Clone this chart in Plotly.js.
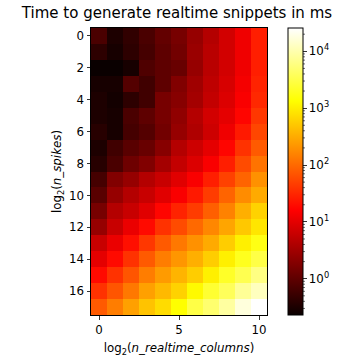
<!DOCTYPE html>
<html>
<head>
<meta charset="utf-8">
<script src="https://cdn.plot.ly/plotly-3.0.1.min.js"></script>
<style>html,body{margin:0;padding:0;background:#fff;}#chart{width:347px;height:361px;}</style>
</head>
<body>
<div id="chart"></div>
<script>
// log2(n_realtime_columns) categories (x) and log2(n_spikes) categories (y)
const logColumns = [0,1,2,3,4,5,6,7,8,9,10];
const logSpikes = [0,1,2,3,4,5,6,7,8,9,10,11,12,13,14,15,16,17];

// Time to generate realtime snippets, in ms (rows = log2 n_spikes, cols = log2 n_realtime_columns)
const timeRow0  = [0.70, 0.32, 0.45, 0.70, 1.08, 1.53, 2.58, 4.34, 7.31, 12.3, 26.9];
const timeRow1  = [0.42, 0.29, 0.42, 0.64, 0.99, 1.40, 2.81, 4.73, 7.31, 12.3, 26.9];
const timeRow2  = [0.22, 0.23, 0.29, 0.76, 0.99, 1.18, 2.58, 4.73, 7.31, 12.3, 26.9];
const timeRow3  = [0.29, 0.29, 0.83, 0.59, 0.99, 1.82, 3.07, 5.16, 7.97, 13.4, 29.3];
const timeRow4  = [0.32, 0.27, 0.42, 0.59, 1.53, 1.99, 3.34, 5.63, 8.69, 14.6, 32.0];
const timeRow5  = [0.32, 0.29, 0.70, 0.99, 1.53, 2.36, 4.34, 7.31, 10.3, 17.4, 41.5];
const timeRow6  = [0.38, 0.29, 0.64, 0.83, 1.40, 2.58, 3.98, 6.70, 12.3, 24.6, 53.8];
const timeRow7  = [0.32, 0.59, 0.91, 1.18, 1.99, 4.34, 6.70, 10.3, 17.4, 38.0, 76.2];
const timeRow8  = [0.38, 0.70, 1.29, 1.82, 3.34, 5.63, 8.69, 14.6, 26.9, 58.7, 118];
const timeRow9  = [0.64, 1.82, 2.58, 4.34, 6.14, 9.48, 14.6, 26.9, 49.4, 90.7, 198];
const timeRow10 = [0.91, 2.58, 4.34, 6.14, 9.48, 14.6, 24.6, 45.3, 90.7, 182, 306];
const timeRow11 = [1.53, 4.34, 6.14, 9.48, 17.4, 29.3, 45.3, 83.1, 153, 334, 613];
const timeRow12 = [2.58, 6.14, 11.3, 19.0, 38.0, 58.7, 98.9, 167, 281, 515, 867];
const timeRow13 = [6.14, 11.3, 20.7, 41.5, 76.2, 128, 198, 306, 562, 1030, 1690];
const timeRow14 = [10.3, 19.0, 38.0, 76.2, 140, 216, 334, 562, 1030, 1900, 3010];
const timeRow15 = [19.0, 38.0, 69.9, 140, 236, 364, 562, 1030, 2130, 3380, 6040];
const timeRow16 = [38.0, 69.9, 128, 257, 397, 613, 1230, 2390, 3800, 7620, 12100];
const timeRow17 = [76.2, 140, 257, 472, 729, 1340, 3010, 4790, 8550, 17100, 25700];

const timeRows = [timeRow0,timeRow1,timeRow2,timeRow3,timeRow4,timeRow5,timeRow6,timeRow7,timeRow8,
                  timeRow9,timeRow10,timeRow11,timeRow12,timeRow13,timeRow14,timeRow15,timeRow16,timeRow17];

// colour range (ms) of the colour bar
const colorMin = 0.23;
const colorMax = 25700;

const xTicks = [0,5,10];
const yTicks = [0,2,4,6,8,10,12,14,16];
const cbDecades = [0,1,2,3,4];

// matplotlib "hot" colormap
const hot = [[0,'rgb(10,0,0)'],[0.365079,'rgb(255,0,0)'],[0.746032,'rgb(255,255,0)'],[1,'rgb(255,255,255)']];

const zLog = timeRows.map(r => r.map(v => Math.log10(v)));
const lmin = Math.log10(colorMin), lmax = Math.log10(colorMax);

// colour bar geometry in paper units (plot domain = 176 px wide)
const cbX = 1.119, cbThickPx = 15, plotWpx = 176;
const cbRight = cbX + cbThickPx / plotWpx;

// minor ticks on the colour bar, drawn as small shapes at log positions
const minorShapes = [];
for (let d = -1; d <= 4; d++) {
  for (let m = 2; m <= 9; m++) {
    const v = d + Math.log10(m);
    if (v < lmin || v > lmax) continue;
    const yp = (v - lmin) / (lmax - lmin);
    minorShapes.push({type: 'line', xref: 'paper', yref: 'paper',
      x0: cbRight, x1: cbRight + 2 / plotWpx, y0: yp, y1: yp,
      line: {color: '#000', width: 0.6}});
  }
}

const font = {family: 'DejaVu Sans, sans-serif', color: '#000'};

const trace = {
  type: 'heatmap',
  x: logColumns,
  y: logSpikes,
  z: zLog,
  zmin: lmin,
  zmax: lmax,
  colorscale: hot,
  hoverinfo: 'skip',
  colorbar: {
    x: cbX, xanchor: 'left', xpad: 0,
    y: 0.5, yanchor: 'middle', ypad: 0,
    len: 1, lenmode: 'fraction',
    thickness: cbThickPx, thicknessmode: 'pixels',
    outlinewidth: 1, outlinecolor: '#000',
    tickmode: 'array', tickvals: cbDecades,
    ticktext: cbDecades.map(d => '10<sup>' + d + '</sup>'),
    ticks: 'outside', ticklen: 3.5, tickwidth: 0.8, tickcolor: '#000',
    tickfont: Object.assign({size: 11.8}, font)
  }
};

const layout = {
  width: 347, height: 361,
  autosize: false,
  margin: {l: 91, r: 80, t: 28, b: 46, pad: 0},
  paper_bgcolor: '#fff', plot_bgcolor: '#fff',
  font: Object.assign({size: 11.8}, font),
  title: {text: 'Time to generate realtime snippets in ms', font: Object.assign({size: 15}, font),
          x: 0.51, xanchor: 'center', y: 0.966, yanchor: 'middle'},
  shapes: minorShapes,
  xaxis: {
    range: [-0.5, 10.5], tickmode: 'array', tickvals: xTicks,
    ticks: 'outside', ticklen: 3.5, tickwidth: 0.8, tickcolor: '#000',
    showline: true, mirror: true, linecolor: '#000', linewidth: 1,
    showgrid: false, zeroline: false, automargin: false,
    tickfont: Object.assign({size: 11.8}, font),
    title: {text: 'log<sub>2</sub>(<i>n_realtime_columns</i>)', font: Object.assign({size: 11.8}, font), standoff: 8}
  },
  yaxis: {
    range: [17.5, -0.5], tickmode: 'array', tickvals: yTicks,
    ticks: 'outside', ticklen: 3.5, tickwidth: 0.8, tickcolor: '#000',
    showline: true, mirror: true, linecolor: '#000', linewidth: 1,
    showgrid: false, zeroline: false, automargin: false,
    tickfont: Object.assign({size: 11.8}, font),
    title: {text: 'log<sub>2</sub>(<i>n_spikes</i>)', font: Object.assign({size: 11.8}, font), standoff: 4}
  }
};

Plotly.newPlot('chart', [trace], layout, {staticPlot: true, displayModeBar: false});
</script>
</body>
</html>
